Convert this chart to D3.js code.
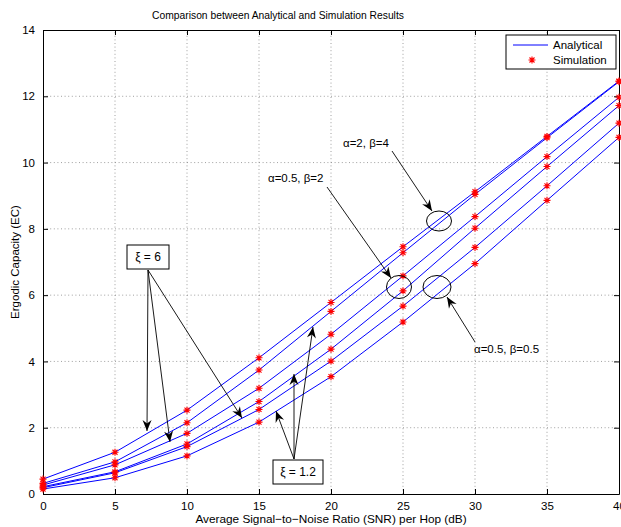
<!DOCTYPE html>
<html>
<head>
<meta charset="utf-8">
<script src="https://cdn.jsdelivr.net/npm/d3@7"></script>
<style>
	body { margin: 0; background: #fff; }
	text { font-family: "Liberation Sans", Arial, sans-serif; }
</style>
</head>
<body>
<div id="chart"></div>
<script>
// SNR per hop (dB)
const snr = [0, 5, 10, 15, 20, 25, 30, 35, 40];

// ergodic capacity, one array per curve
const ec_a2b4_xi6 = [0.45, 1.26, 2.53, 4.11, 5.78, 7.46, 9.12, 10.79, 12.46];
const ec_a2b4_xi12 = [0.32, 0.97, 2.15, 3.74, 5.51, 7.28, 9.04, 10.75, 12.44];
const ec_a05b2_xi6 = [0.27, 0.88, 1.83, 3.19, 4.82, 6.58, 8.37, 10.18, 11.97];
const ec_a05b2_xi12 = [0.22, 0.67, 1.51, 2.79, 4.37, 6.13, 8.02, 9.88, 11.72];
const ec_a05b05_xi6 = [0.19, 0.64, 1.43, 2.55, 4.01, 5.67, 7.44, 9.30, 11.19];
const ec_a05b05_xi12 = [0.15, 0.49, 1.15, 2.17, 3.54, 5.19, 6.95, 8.86, 10.76];

const curves = [ec_a2b4_xi6, ec_a2b4_xi12, ec_a05b2_xi6, ec_a05b2_xi12, ec_a05b05_xi6, ec_a05b05_xi12];

const x_ticks = [0, 5, 10, 15, 20, 25, 30, 35, 40];
const y_ticks = [0, 2, 4, 6, 8, 10, 12, 14];

const width = 621;
const height = 527;
const margin = { top: 30, right: 2, bottom: 33, left: 43 };

const svg = d3.select('#chart').append('svg')
	.attr('width', width)
	.attr('height', height);

const x = d3.scaleLinear().domain([0, 40]).range([margin.left, width - margin.right]);
const y = d3.scaleLinear().domain([0, 14]).range([height - margin.bottom, margin.top]);

// dotted grid
const grid = svg.append('g')
	.attr('stroke', '#888')
	.attr('stroke-width', 0.8)
	.attr('stroke-dasharray', '1,2.6');
grid.selectAll('.gx')
	.data(x_ticks.slice(1, -1))
	.enter()
	.append('line')
	.attr('x1', d => x(d)).attr('x2', d => x(d))
	.attr('y1', y(0)).attr('y2', y(14));
grid.selectAll('.gy')
	.data(y_ticks.slice(1, -1))
	.enter()
	.append('line')
	.attr('y1', d => y(d)).attr('y2', d => y(d))
	.attr('x1', x(0)).attr('x2', x(40));

// axes, ticks pointing inwards on all four sides
const style_axis = g => {
	g.selectAll('path.domain').attr('stroke', '#000').attr('stroke-width', 1);
	g.selectAll('.tick line').attr('stroke', '#000');
	g.selectAll('.tick text').attr('fill', '#000').style('font-size', '11.5px');
};

svg.append('g')
	.attr('transform', `translate(0,${y(0)})`)
	.call(d3.axisBottom(x).tickValues(x_ticks).tickSizeInner(-5).tickSizeOuter(0).tickPadding(8))
	.call(style_axis);
svg.append('g')
	.attr('transform', `translate(0,${y(14)})`)
	.call(d3.axisTop(x).tickValues(x_ticks).tickSizeInner(-5).tickSizeOuter(0).tickFormat(''))
	.call(style_axis);
svg.append('g')
	.attr('transform', `translate(${x(0)},0)`)
	.call(d3.axisLeft(y).tickValues(y_ticks).tickSizeInner(-5).tickSizeOuter(0).tickPadding(8))
	.call(style_axis);
svg.append('g')
	.attr('transform', `translate(${x(40)},0)`)
	.call(d3.axisRight(y).tickValues(y_ticks).tickSizeInner(-5).tickSizeOuter(0).tickFormat(''))
	.call(style_axis);

// analytical curves
const line = d3.line()
	.x((d, i) => x(snr[i]))
	.y(d => y(d));

svg.append('g')
	.selectAll('path')
	.data(curves)
	.enter()
	.append('path')
	.attr('d', line)
	.attr('fill', 'none')
	.attr('stroke', '#0000ff')
	.attr('stroke-width', 1);

// simulation markers (matlab style asterisk)
const star = 'M-3.5,0H3.5M0,-3.5V3.5M-2.5,-2.5L2.5,2.5M-2.5,2.5L2.5,-2.5';
const points = curves.map(c => c.map((v, i) => ({ x: snr[i], y: v }))).flat();

svg.append('g')
	.selectAll('path')
	.data(points)
	.enter()
	.append('path')
	.attr('d', star)
	.attr('transform', d => `translate(${x(d.x)},${y(d.y)})`)
	.attr('fill', 'none')
	.attr('stroke', '#ff0000')
	.attr('stroke-width', 1.1);

// title and axis labels
svg.append('text')
	.attr('x', 278)
	.attr('y', 19)
	.attr('text-anchor', 'middle')
	.style('font-size', '10.3px')
	.text('Comparison between Analytical and Simulation Results');

svg.append('text')
	.attr('x', (x(0) + x(40)) / 2)
	.attr('y', 523)
	.attr('text-anchor', 'middle')
	.style('font-size', '11.8px')
	.text('Average Signal\u2212to\u2212Noise Ratio (SNR) per Hop (dB)');

svg.append('text')
	.attr('transform', `translate(19,${(y(0) + y(14)) / 2}) rotate(-90)`)
	.attr('text-anchor', 'middle')
	.style('font-size', '11.5px')
	.text('Ergodic Capacity (EC)');

// legend
const legend = svg.append('g');
legend.append('rect')
	.attr('x', 506).attr('y', 35)
	.attr('width', 110).attr('height', 34)
	.attr('fill', '#fff')
	.attr('stroke', '#000')
	.attr('stroke-width', 1);
legend.append('line')
	.attr('x1', 513).attr('x2', 548)
	.attr('y1', 45).attr('y2', 45)
	.attr('stroke', '#0000ff');
legend.append('path')
	.attr('d', star)
	.attr('transform', 'translate(532,60)')
	.attr('fill', 'none')
	.attr('stroke', '#ff0000')
	.attr('stroke-width', 1.1);
legend.selectAll('text')
	.data(['Analytical', 'Simulation'])
	.enter()
	.append('text')
	.attr('x', 553)
	.attr('y', (d, i) => 49 + i * 15)
	.style('font-size', '11.5px')
	.text(d => d);

// annotations
svg.append('defs').append('marker')
	.attr('id', 'head')
	.attr('markerUnits', 'userSpaceOnUse')
	.attr('viewBox', '-12 -6 13 12')
	.attr('refX', 0).attr('refY', 0)
	.attr('markerWidth', 13).attr('markerHeight', 12)
	.attr('orient', 'auto')
	.append('path')
	.attr('d', 'M0,0L-11,-4.5L-7.5,0L-11,4.5Z')
	.attr('fill', '#000');

const arrows = [
	[148, 270, 147, 431],
	[148, 270, 170, 442],
	[148, 270, 242, 418],
	[294, 459, 276, 411],
	[294, 459, 294, 374],
	[294, 459, 313, 327],
	[392, 151, 432, 211],
	[327, 187, 391, 278],
	[475, 342, 447, 297]
];
svg.append('g')
	.selectAll('line')
	.data(arrows)
	.enter()
	.append('line')
	.attr('x1', d => d[0]).attr('y1', d => d[1])
	.attr('x2', d => d[2]).attr('y2', d => d[3])
	.attr('stroke', '#000')
	.attr('stroke-width', 0.9)
	.attr('marker-end', 'url(#head)');

const ellipses = [
	[439, 221, 12.5, 10],
	[399, 287, 12.5, 11.5],
	[437, 287, 14, 11.5]
];
svg.append('g')
	.selectAll('ellipse')
	.data(ellipses)
	.enter()
	.append('ellipse')
	.attr('cx', d => d[0]).attr('cy', d => d[1])
	.attr('rx', d => d[2]).attr('ry', d => d[3])
	.attr('fill', 'none')
	.attr('stroke', '#000')
	.attr('stroke-width', 1);

const boxes = [
	{ x: 127, y: 245, w: 42, h: 24, label: '\u03be = 6' },
	{ x: 273, y: 460, w: 50, h: 24, label: '\u03be = 1.2' }
];
const box = svg.append('g')
	.selectAll('g')
	.data(boxes)
	.enter()
	.append('g');
box.append('rect')
	.attr('x', d => d.x).attr('y', d => d.y)
	.attr('width', d => d.w).attr('height', d => d.h)
	.attr('fill', '#fff')
	.attr('stroke', '#000')
	.attr('stroke-width', 1);
box.append('text')
	.attr('x', d => d.x + d.w / 2)
	.attr('y', d => d.y + d.h / 2 + 4)
	.attr('text-anchor', 'middle')
	.style('font-size', '12px')
	.text(d => d.label);

const labels = [
	{ x: 343, y: 147, text: '\u03b1=2, \u03b2=4' },
	{ x: 268, y: 182, text: '\u03b1=0.5, \u03b2=2' },
	{ x: 474, y: 353, text: '\u03b1=0.5, \u03b2=0.5' }
];
svg.append('g')
	.selectAll('text')
	.data(labels)
	.enter()
	.append('text')
	.attr('x', d => d.x)
	.attr('y', d => d.y)
	.style('font-size', '11.5px')
	.text(d => d.text);
</script>
</body>
</html>
